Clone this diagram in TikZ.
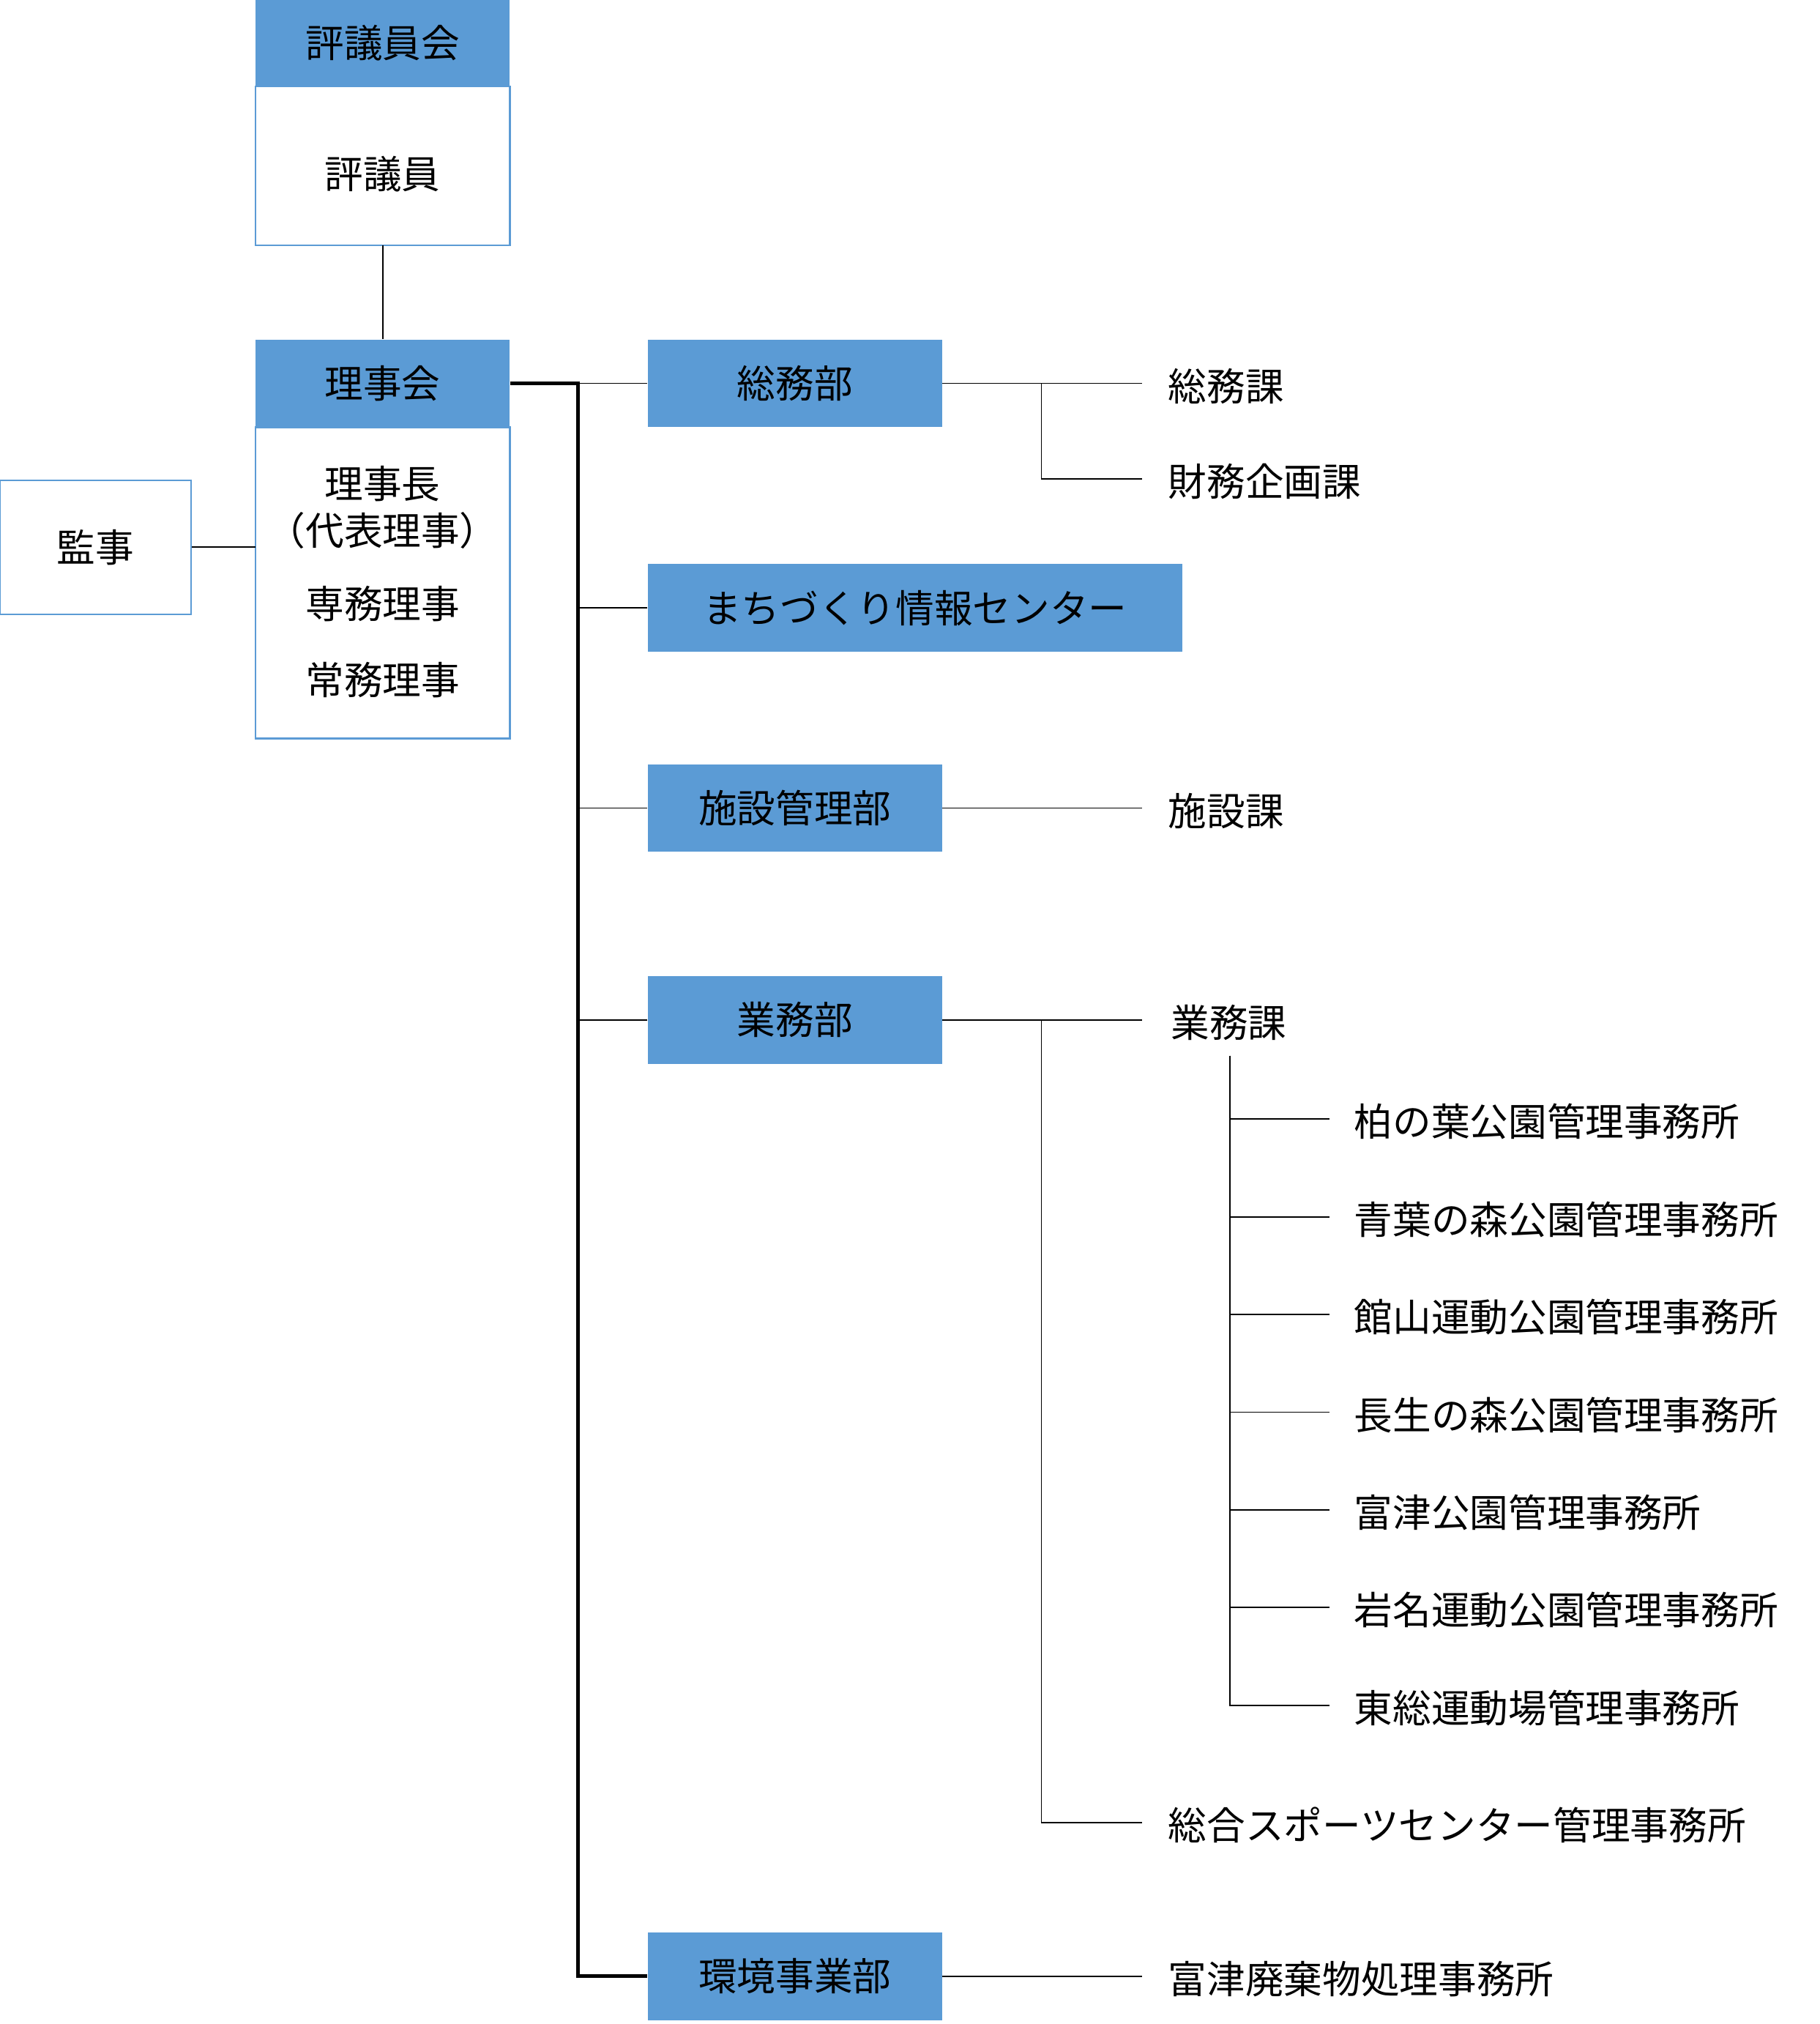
\documentclass[tikz,border=0pt]{standalone}
\usepackage{fontspec}
\setmainfont{Noto Sans CJK JP}
\usetikzlibrary{positioning}
\definecolor{orgblue}{HTML}{5B9BD5}
\tikzset{
  head/.style={fill=orgblue,minimum height=1.36cm,inner sep=0pt,font=\fontsize{17}{20}\selectfont},
  body/.style={draw=orgblue,line width=0.8pt,fill=white},
  lbl/.style={anchor=west,inner sep=0pt,font=\fontsize{17}{20}\selectfont},
  txt/.style={inner sep=0pt,font=\fontsize{17}{20}\selectfont},
  link/.style={line width=0.6pt},
  trunk/.style={line width=1.6pt}
}
\begin{document}
\begin{tikzpicture}[x=0.02cm,y=-0.02cm]
\useasboundingbox (0,0) rectangle (1410,1568);
% board of councillors
\draw [body] (198,67) rectangle (395,190);
\node [head,minimum width=3.94cm] (hyogiinkai) at (296.5,33.5) {評議員会};
\node [txt] (hyogiin) at (296.5,135) {評議員};
% board of directors
\draw [body] (198,331) rectangle (395,572);
\node [head,minimum width=3.94cm] (rijikai) at (296.5,297) {理事会};
\node [txt] (r1) at (296.5,375) {理事長};
\node [txt] (r2) at (296.5,411) {（代表理事）};
\node [txt] (r3) at (296.5,468) {専務理事};
\node [txt] (r4) at (296.5,527) {常務理事};
\node [body,minimum width=2.96cm,minimum height=2.08cm,txt] (kanji) at (74,424) {監事};
\draw [link] (296.5,190) -- (rijikai.north);
\draw [link] (kanji.east) -- (198,424);
% departments
\node [head,minimum width=4.56cm] (somu) at (616,297) {総務部};
\node [head,minimum width=8.28cm] (machi) at (709,471) {まちづくり情報センター};
\node [head,minimum width=4.56cm] (shisetsu) at (616,626) {施設管理部};
\node [head,minimum width=4.56cm] (gyomu) at (616,790) {業務部};
\node [head,minimum width=4.56cm] (kankyo) at (616,1531) {環境事業部};
\coordinate (top) at (448,297);
\coordinate (bot) at (448,1531);
\draw [trunk] (rijikai.east) -- (top) -- (bot) -- (kankyo.west);
\draw [link] (top) -- (somu.west);
\foreach \d in {machi,shisetsu,gyomu}
  \draw [link] (\d.west) -- (\d.west -| top);
% sections
\node [lbl] (somuka) at (905,299) {総務課};
\node [lbl] (zaimu) at (905,373) {財務企画課};
\node [lbl] (shisetsuka) at (905,628) {施設課};
\node [lbl] (gyomuka) at (907,792) {業務課};
\node [lbl] (sports) at (905,1414) {総合スポーツセンター管理事務所};
\node [lbl] (futtsu) at (905,1533) {富津廃棄物処理事務所};
\draw [link] (somu.east) -- (885,297);
\draw [link] (807,297) |- (885,371);
\draw [link] (shisetsu.east) -- (885,626);
\draw [link] (gyomu.east) -- (885,790);
\draw [link] (807,790) |- (885,1412);
\draw [link] (kankyo.east) -- (885,1531);
% offices
\coordinate (sub) at (953,818);
\foreach \t [count=\i] in {柏の葉公園管理事務所,青葉の森公園管理事務所,館山運動公園管理事務所,長生の森公園管理事務所,富津公園管理事務所,岩名運動公園管理事務所,東総運動場管理事務所}{
  \node [lbl] (of\i) at (1049,{867+75.67*(\i-1)+2}) {\t};
  \draw [link] (sub) |- (1030,{867+75.67*(\i-1)});
}
\end{tikzpicture}
\end{document}
